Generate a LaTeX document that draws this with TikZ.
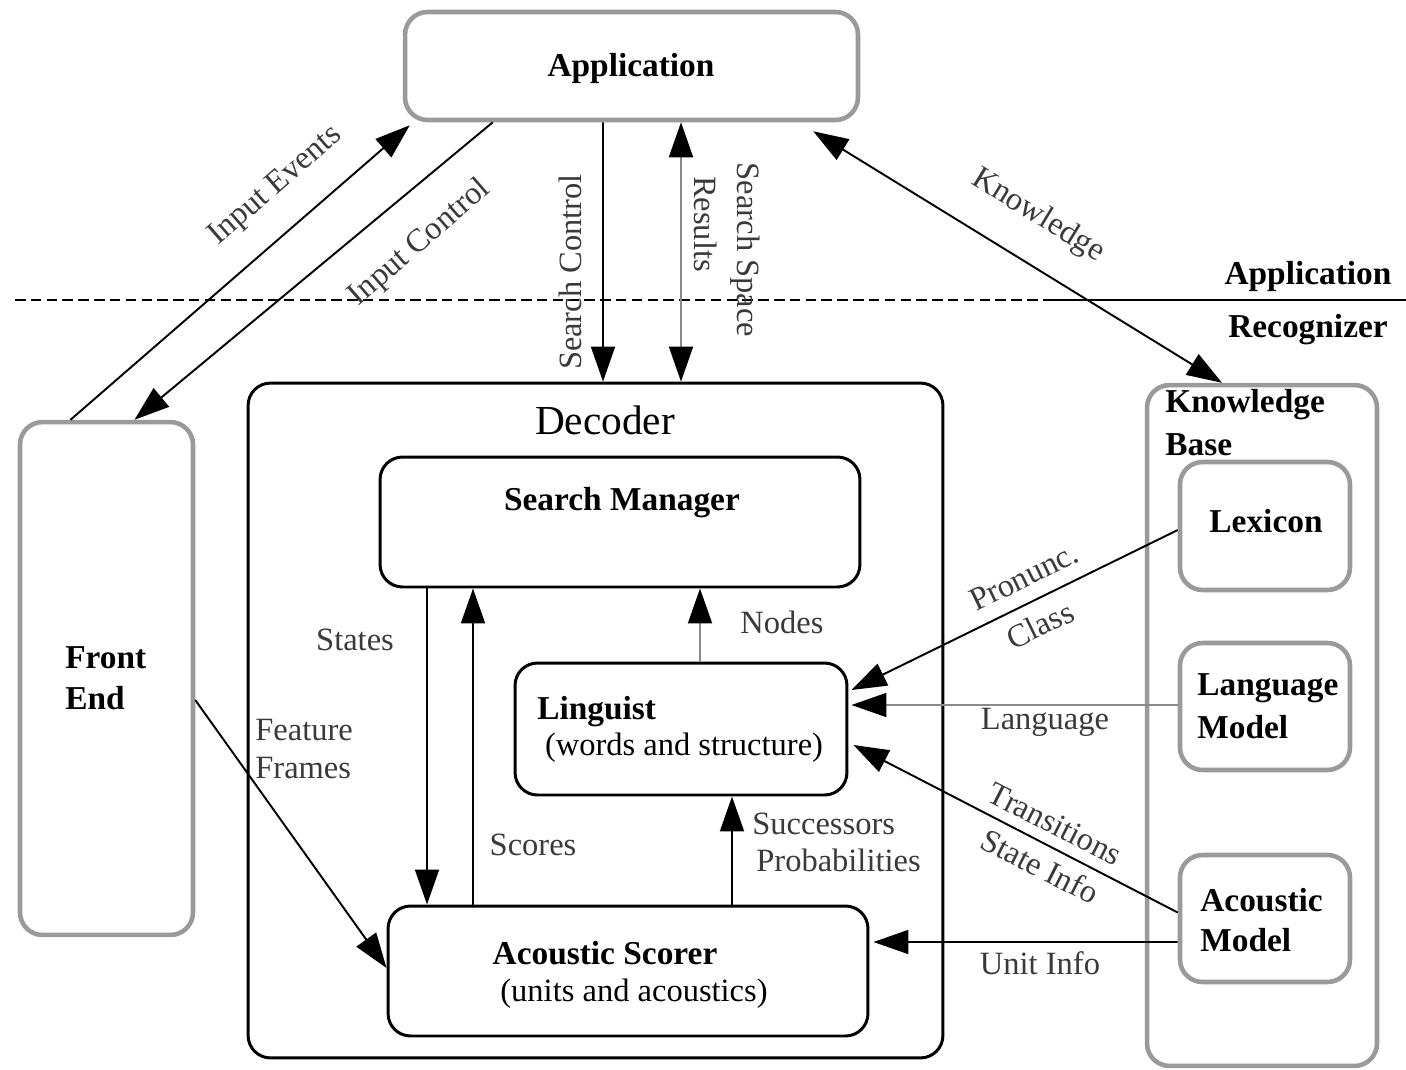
\documentclass[tikz,border=0pt]{standalone}
\usepackage{fontspec}
\setmainfont{Liberation Serif}
\usetikzlibrary{arrows.meta,calc}
\definecolor{boxgray}{HTML}{9A9A9A}
\definecolor{lblgray}{HTML}{3A3A3A}
\definecolor{linegray}{HTML}{8A8A8A}
\tikzset{
  graybox/.style={draw=boxgray,line width=2.6pt,rounded corners=0.45cm,rectangle,inner sep=0pt},
  blackbox/.style={draw=black,line width=1.7pt,rounded corners=0.45cm,rectangle,inner sep=0pt},
  title/.style={font=\fontsize{19}{22}\selectfont\bfseries,inner sep=0pt},
  sub/.style={font=\fontsize{18.5}{21}\selectfont,inner sep=0pt},
  lbl/.style={font=\fontsize{18.5}{21}\selectfont,text=lblgray,inner sep=0pt},
  conn/.style={line width=1.1pt,-{Triangle[length=0.7cm,width=0.48cm,black]}},
  bconn/.style={line width=1.1pt,{Triangle[length=0.7cm,width=0.48cm,black]}-{Triangle[length=0.7cm,width=0.48cm,black]}}
}
\begin{document}
\begin{tikzpicture}[x=0.02cm,y=-0.02cm]
\useasboundingbox (0,0) rectangle (1406,1069);
% boxes
\node[graybox,minimum width=9.06cm,minimum height=2.16cm] (app) at (631.5,66) {};
\node[graybox,minimum width=3.46cm,minimum height=10.26cm] (fe) at (106.5,678.5) {};
\node[blackbox,minimum width=13.9cm,minimum height=13.5cm] (dec) at (595.5,720.5) {};
\node[blackbox,minimum width=9.6cm,minimum height=2.6cm] (sm) at (620,522) {};
\node[blackbox,minimum width=6.64cm,minimum height=2.64cm] (ling) at (681,729) {};
\node[blackbox,minimum width=9.6cm,minimum height=2.6cm] (as) at (628,971) {};
\node[graybox,minimum width=4.6cm,minimum height=13.62cm] (kb) at (1262,725.5) {};
\node[graybox,minimum width=3.4cm,minimum height=2.56cm] (lex) at (1265,526) {};
\node[graybox,minimum width=3.4cm,minimum height=2.54cm] (lm) at (1265,706.5) {};
\node[graybox,minimum width=3.4cm,minimum height=2.54cm] (am) at (1265,918.5) {};
% box titles
\node[title] (tapp) at (631,68) {Application};
\node[font=\fontsize{23.5}{27}\selectfont,inner sep=0pt] (tdec) at (605,420) {Decoder};
\node[title] (tsm) at (622,503) {Search Manager};
\node[title,anchor=west] (tling) at (537,712) {Linguist};
\node[sub] (tling2) at (684,748) {(words and structure)};
\node[title] (tas) at (605,953) {Acoustic Scorer};
\node[sub] (tas2) at (634,994) {(units and acoustics)};
\node[title,anchor=west] (tfe1) at (65,658) {Front};
\node[title,anchor=west] (tfe2) at (65,698) {End};
\node[title,anchor=west] (tkb1) at (1165,405) {Knowledge};
\node[title,anchor=west] (tkb2) at (1165,445) {Base};
\node[title] (tlex) at (1266,521) {Lexicon};
\node[title,anchor=west] (tlm1) at (1197,688) {Language};
\node[title,anchor=west] (tlm2) at (1197,727) {Model};
\node[title,anchor=west] (tam1) at (1200,900) {Acoustic};
\node[title,anchor=west] (tam2) at (1200,940) {Model};
\node[title] (lapp) at (1308,276) {Application};
\node[title] (lrec) at (1308,330) {Recognizer};
% separator line
\coordinate (s1) at (15,300);
\coordinate (s2) at (1050,300);
\coordinate (s3) at (1406,300);
\draw[line width=1.2pt,dashed,dash pattern=on 6pt off 3pt] (s1) -- (s2);
\draw[line width=1.4pt] (s2) -- (s3);
% connectors
\draw[conn] ($(fe.north)+(-36,0)$) -- ($(app.south west)+(7,3)$);
\draw[conn] ($(app.south west)+(90,0)$) -- ($(fe.north)+(28,0)$);
\draw[conn] ($(app.south)+(-28.5,0)$) -- ($(dec.north)+(7.5,0)$);
\draw[bconn,draw=linegray] ($(app.south)+(49.5,0)$) -- ($(dec.north)+(85.5,0)$);
\draw[bconn] ($(app.south east)+(-47,9)$) -- ($(kb.north)+(-40,0)$);
\draw[conn] ($(sm.south)+(-193,0)$) -- ($(as.north)+(-201,0)$);
\draw[conn] ($(as.north)+(-155,0)$) -- ($(sm.south)+(-147,0)$);
\draw[conn,draw=linegray] ($(ling.north)+(19,0)$) -- ($(sm.south)+(80,0)$);
\draw[conn] ($(as.north)+(104,0)$) -- ($(ling.south)+(51,0)$);
\draw[conn] ($(fe.east)+(0,21.5)$) -- ($(as.west)+(0,-3)$);
\draw[conn] ($(lex.west)+(0,4)$) -- ($(ling.east)+(3,-39)$);
\draw[conn,draw=linegray] ($(lm.west)+(0,-1.5)$) -- ($(ling.east)+(3,-24)$);
\draw[conn] ($(am.west)+(0,-6)$) -- ($(ling.east)+(5,16)$);
\draw[conn] ($(am.west)+(0,23.5)$) -- ($(as.east)+(4,-29)$);
% connector labels
\node[lbl,rotate=41] (lie) at (276,186) {Input Events};
\node[lbl,rotate=41] (lic) at (420,243) {Input Control};
\node[lbl,rotate=90] (lsc) at (570,272) {Search Control};
\node[lbl,rotate=-90] (lres) at (706,224) {Results};
\node[lbl,rotate=-90] (lss) at (745,250) {Search Space};
\node[lbl,rotate=-31.5] (lkn) at (1038,216) {Knowledge};
\node[lbl] (lst) at (355,640) {States};
\node[lbl] (lno) at (782,622) {Nodes};
\node[lbl,anchor=west] (lff1) at (255,730) {Feature};
\node[lbl,anchor=west] (lff2) at (255,768) {Frames};
\node[lbl] (lsco) at (533,845) {Scores};
\node[lbl,anchor=west] (lsu1) at (752,824) {Successors};
\node[lbl,anchor=west] (lsu2) at (756,860) {Probabilities};
\node[lbl,rotate=26] (lpr1) at (1024,577) {Pronunc.};
\node[lbl,rotate=26] (lpr2) at (1040,625) {Class};
\node[lbl] (llang) at (1045,722) {Language};
\node[lbl,rotate=-27] (ltr1) at (1055,824) {Transitions};
\node[lbl,rotate=-27] (ltr2) at (1040,866) {State Info};
\node[lbl] (lui) at (1040,963) {Unit Info};
\end{tikzpicture}
\end{document}
